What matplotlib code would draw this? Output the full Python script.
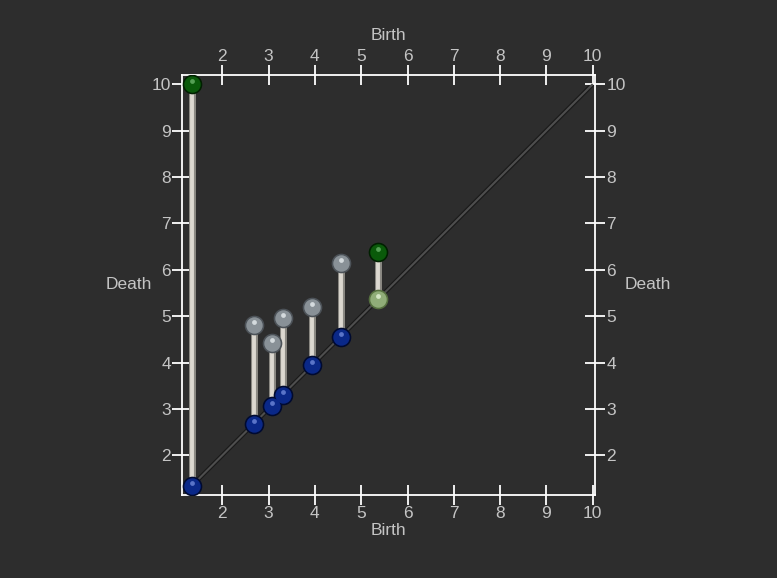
import matplotlib

matplotlib.use("Agg")
import matplotlib.pyplot as plt
import matplotlib.transforms as mtransforms

# persistence pairs
birth = [1.34, 2.68, 3.07, 3.31, 3.94, 4.56, 5.36]
death = [10.0, 4.81, 4.41, 4.96, 5.20, 6.15, 6.38]
birth_kind = ["min", "min", "min", "min", "min", "min", "saddle"]
death_kind = ["max", "saddle2", "saddle2", "saddle2", "saddle2", "saddle2", "max"]
diag = [1.34, 10.0]
ticks = [2, 3, 4, 5, 6, 7, 8, 9, 10]

BG = "#2d2d2d"
FG = "#c4c4c4"
# (edge, body, highlight) per critical-point type
PALETTE = {
    "min": ("#000a30", "#0a2888", "#5a74c8"),
    "saddle": ("#56703f", "#90ad78", "#d4e6c4"),
    "saddle2": ("#4c5258", "#899197", "#d4dadd"),
    "max": ("#002000", "#0a5a0a", "#55a055"),
}


def spheres(ax, xs, ys, kinds, fig):
    up = mtransforms.ScaledTranslation(0, 3.0 / fig.dpi, fig.dpi_scale_trans)
    for x, y, k in zip(xs, ys, kinds):
        edge, body, hi = PALETTE[k]
        ax.scatter([x], [y], s=200, color=edge, zorder=5, lw=0)
        ax.scatter([x], [y], s=140, color=body, zorder=6, lw=0)
        ax.scatter([x], [y], s=12, color=hi, zorder=7, lw=0,
                   transform=ax.transData + up)


fig = plt.figure(figsize=(7.77, 5.78), dpi=100, facecolor=BG)
ax = fig.add_axes([0.2346, 0.1431, 0.5316, 0.7266], facecolor=BG)

ax.plot(diag, diag, color="#1a1a1a", lw=3.2, zorder=1, solid_capstyle="butt")
ax.plot(diag, diag, color="#4e4e4e", lw=1.5, zorder=2, solid_capstyle="butt")

for b, d in zip(birth, death):
    ax.plot([b, b], [b, d], color="#8c8a84", lw=5.0, zorder=3, solid_capstyle="butt")
    ax.plot([b, b], [b, d], color="#dcd8d0", lw=2.8, zorder=4, solid_capstyle="butt")

spheres(ax, birth, birth, birth_kind, fig)
spheres(ax, birth, death, death_kind, fig)

ax.set_xlim(1.136, 10.056)
ax.set_ylim(1.138, 10.19)
ax.set_xticks(ticks)
ax.set_yticks(ticks)
for s in ax.spines.values():
    s.set_color("white")
    s.set_linewidth(1.3)
ax.tick_params(which="both", direction="inout", length=14, width=1.3, colors="white",
               labelcolor=FG, labelsize=12.5, top=True, right=True,
               labeltop=True, labelright=True, pad=1)
for lab in ax.get_xticklabels() + ax.get_yticklabels():
    lab.set_fontfamily("Liberation Sans")

lab_kw = dict(color=FG, fontsize=12.5, family="Liberation Sans", ha="center", va="center",
              transform=ax.transAxes)
ax.text(0.5, -0.083, "Birth", **lab_kw)
ax.text(0.5, 1.094, "Birth", **lab_kw)
ax.text(-0.129, 0.503, "Death", **lab_kw)
ax.text(1.128, 0.503, "Death", **lab_kw)

fig.savefig("out.png", dpi=100, facecolor=BG)
